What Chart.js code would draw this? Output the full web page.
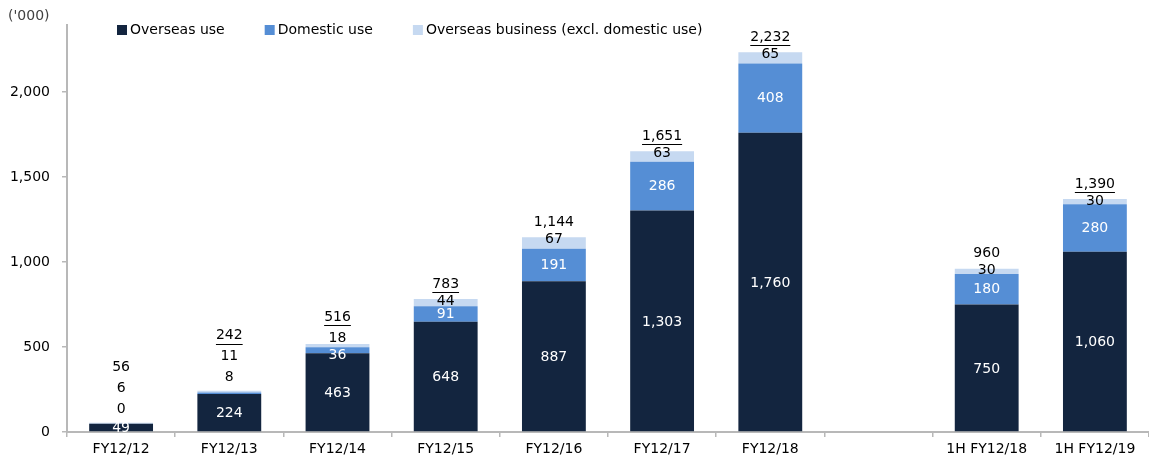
<!DOCTYPE html>
<html>
<head>
<meta charset="utf-8">
<script src="https://cdn.jsdelivr.net/npm/chart.js@4/dist/chart.umd.min.js"></script>
<style>
  html, body { margin: 0; padding: 0; background: #fff; }
  #wrap { width: 1149px; height: 461px; position: relative; }
</style>
</head>
<body>
<div id="wrap"><canvas id="chart"></canvas></div>
<script>
// ── Data ──
const categories = ['FY12/12', 'FY12/13', 'FY12/14', 'FY12/15', 'FY12/16', 'FY12/17', 'FY12/18', '', '1H FY12/18', '1H FY12/19'];
const overseasUse = [49, 224, 463, 648, 887, 1303, 1760, null, 750, 1060];
const domesticUse = [0, 8, 36, 91, 191, 286, 408, null, 180, 280];
const overseasBusiness = [6, 11, 18, 44, 67, 63, 65, null, 30, 30];
const totals = [56, 242, 516, 783, 1144, 1651, 2232, null, 960, 1390];
const underlinedTotals = ['FY12/13', 'FY12/14', 'FY12/15', 'FY12/17', 'FY12/18', '1H FY12/19'];
const yTicks = [0, 500, 1000, 1500, 2000];
const unitLabel = "('000)";

// ── Style ──
const FONT = "'DejaVu Sans', Verdana, sans-serif";
const NAVY = '#13253F';
const BLUE = '#558ED5';
const LIGHT = '#C6D9F1';
const AXIS = '#B8B8B8';

const fmt = v => v.toLocaleString('en-US');

function drawText(ctx, txt, x, y, color, underline) {
  ctx.fillStyle = color;
  ctx.fillText(txt, x, y);
  if (underline) {
    const w = ctx.measureText(txt).width;
    ctx.strokeStyle = color;
    ctx.lineWidth = 1;
    ctx.beginPath();
    ctx.moveTo(x - w / 2, Math.round(y + 8) + 0.5);
    ctx.lineTo(x + w / 2, Math.round(y + 8) + 0.5);
    ctx.stroke();
  }
}

// Value labels on / above the stacks
const labelPlugin = {
  id: 'valueLabels',
  afterDatasetsDraw(chart) {
    const ctx = chart.ctx;
    const m0 = chart.getDatasetMeta(0).data;
    const m1 = chart.getDatasetMeta(1).data;
    const m2 = chart.getDatasetMeta(2).data;
    ctx.save();
    ctx.font = '14px ' + FONT;
    ctx.textAlign = 'center';
    ctx.textBaseline = 'middle';
    categories.forEach((cat, j) => {
      if (totals[j] == null) return;
      const b0 = m0[j], b1 = m1[j], b2 = m2[j];
      const x = b0.x;
      drawText(ctx, fmt(overseasUse[j]), x, (b0.y + b0.base) / 2 + 1, '#fff');

      const top = b2.y;
      const domH = b1.base - b1.y;
      const busH = b2.base - b2.y;
      let busY;
      if (domH >= 5) {
        drawText(ctx, fmt(domesticUse[j]), x, (b1.y + b1.base) / 2 + (domH < 14 ? 5 : 0), '#fff');
        busY = busH >= 5 ? top + 2 : top - 6;
      } else {
        const domY = top - 13;
        drawText(ctx, fmt(domesticUse[j]), x, domY, '#000');
        busY = domY - 21;
      }
      drawText(ctx, fmt(overseasBusiness[j]), x, busY, '#000');
      const totY = busY - (domH >= 5 ? (busH >= 5 ? 17 : 21) : 21);
      drawText(ctx, fmt(totals[j]), x, totY, '#000', underlinedTotals.includes(cat));
    });
    ctx.restore();
  }
};

// Legend and unit caption
const legendPlugin = {
  id: 'topLegend',
  afterDraw(chart) {
    const ctx = chart.ctx;
    ctx.save();
    ctx.font = '14px ' + FONT;
    ctx.textBaseline = 'middle';
    ctx.textAlign = 'left';
    ctx.fillStyle = '#404040';
    ctx.fillText(unitLabel, 8, 16);
    let x = 117;
    const y = 30;
    chart.data.datasets.forEach(ds => {
      ctx.fillStyle = ds.backgroundColor;
      ctx.fillRect(x, y - 5, 10, 10);
      ctx.fillStyle = '#000';
      ctx.fillText(ds.label, x + 13, y);
      x += 13 + ctx.measureText(ds.label).width + 40;
    });
    ctx.restore();
  }
};

new Chart(document.getElementById('chart'), {
  type: 'bar',
  data: {
    labels: categories,
    datasets: [
      { label: 'Overseas use', data: overseasUse, backgroundColor: NAVY },
      { label: 'Domestic use', data: domesticUse, backgroundColor: BLUE },
      { label: 'Overseas business (excl. domestic use)', data: overseasBusiness, backgroundColor: LIGHT },
    ],
  },
  options: {
    responsive: true,
    maintainAspectRatio: false,
    animation: false,
    layout: { padding: { top: 25, right: 0, left: 0, bottom: 0 } },
    datasets: { bar: { categoryPercentage: 1, barPercentage: 0.59 } },
    plugins: {
      legend: { display: false },
      tooltip: { enabled: false },
    },
    scales: {
      x: {
        stacked: true,
        afterFit: s => { s.height = 29; },
        grid: { offset: true, drawOnChartArea: false, drawTicks: true, tickLength: 5, color: AXIS, lineWidth: 1.5 },
        border: { color: AXIS, width: 2 },
        ticks: { color: '#000', font: { family: FONT, size: 14 }, padding: 4, maxRotation: 0, autoSkip: false },
      },
      y: {
        stacked: true,
        min: 0,
        max: 2394,
        afterFit: s => { s.width = 67; },
        afterBuildTicks: s => { s.ticks = yTicks.map(v => ({ value: v })); },
        grid: { drawOnChartArea: false, drawTicks: true, tickLength: 5, color: AXIS, lineWidth: 1.5 },
        border: { color: AXIS, width: 2 },
        ticks: { color: '#000', font: { family: FONT, size: 14 }, padding: 12, callback: v => fmt(v) },
      },
    },
  },
  plugins: [labelPlugin, legendPlugin],
});
</script>
</body>
</html>
